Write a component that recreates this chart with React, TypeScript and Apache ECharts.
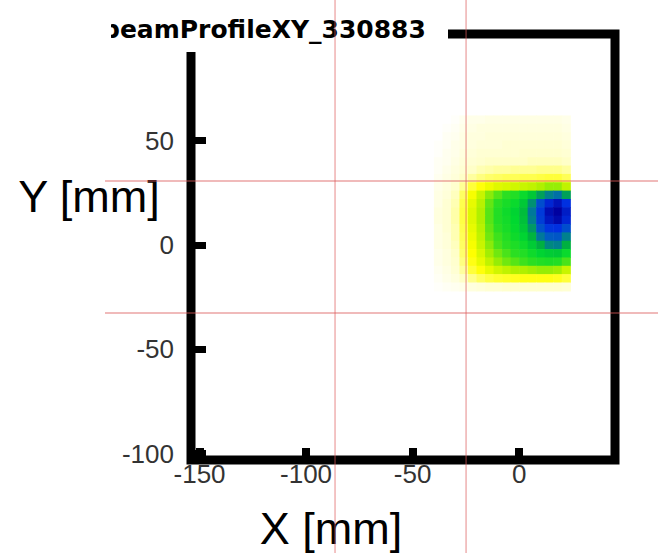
import React, { useEffect, useRef } from 'react';
import * as echarts from 'echarts';

const TITLE = 'beamProfileXY_330883';
const X_TITLE = 'X [mm]';
const Y_TITLE = 'Y [mm]';
const X_TICKS = [-150, -100, -50, 0];
const Y_TICKS = [-100, -50, 0, 50];
const X_MIN = -154;
const X_MAX = 45;
const Y_MIN = -103;
const Y_MAX = 101;
const BIN = 4;
const X_BINS = [-38, -34, -30, -26, -22, -18, -14, -10, -6, -2, 2, 6, 10, 14, 18, 22];
const Y_BINS = [60, 56, 52, 48, 44, 40, 36, 32, 28, 24, 20, 16, 12, 8, 4, 0, -4, -8, -12, -16, -20];
const COUNTS = [
  [0, 0, 1, 3, 4, 4, 5, 5, 5, 5, 5, 5, 5, 5, 5, 4],
  [0, 1, 2, 4, 5, 6, 6, 6, 6, 6, 6, 6, 6, 6, 6, 5],
  [0, 2, 3, 5, 6, 6, 7, 7, 7, 7, 7, 7, 7, 7, 7, 6],
  [1, 2, 4, 5, 6, 7, 7, 7, 8, 8, 8, 8, 8, 8, 8, 7],
  [1, 3, 4, 6, 7, 8, 8, 8, 8, 8, 9, 9, 9, 9, 9, 8],
  [2, 3, 5, 7, 8, 9, 10, 10, 10, 10, 10, 11, 11, 11, 11, 10],
  [2, 4, 6, 8, 10, 12, 13, 14, 14, 15, 15, 15, 16, 16, 16, 14],
  [3, 5, 7, 10, 14, 17, 19, 20, 21, 21, 22, 22, 23, 24, 24, 21],
  [4, 6, 9, 15, 24, 29, 32, 34, 35, 36, 37, 38, 40, 42, 42, 38],
  [5, 7, 11, 20, 31, 37, 43, 47, 51, 53, 58, 64, 72, 76, 78, 72],
  [5, 8, 12, 22, 33, 39, 46, 51, 55, 58, 64, 74, 84, 92, 96, 90],
  [6, 8, 13, 23, 34, 40, 47, 53, 57, 61, 67, 77, 88, 97, 100, 94],
  [6, 8, 13, 23, 34, 40, 47, 53, 56, 60, 66, 76, 87, 95, 98, 92],
  [5, 8, 12, 22, 33, 39, 46, 51, 55, 59, 64, 73, 83, 89, 90, 84],
  [5, 7, 12, 21, 32, 38, 45, 49, 53, 57, 61, 69, 77, 81, 82, 76],
  [5, 7, 11, 20, 31, 37, 43, 48, 51, 54, 57, 63, 70, 75, 76, 70],
  [4, 6, 10, 19, 30, 35, 41, 45, 48, 51, 53, 57, 61, 63, 64, 58],
  [4, 6, 9, 17, 28, 33, 38, 42, 45, 47, 49, 51, 53, 54, 53, 48],
  [3, 5, 8, 14, 24, 29, 33, 36, 38, 40, 40, 41, 42, 42, 41, 37],
  [2, 4, 6, 10, 16, 20, 23, 25, 26, 27, 28, 28, 28, 28, 27, 24],
  [1, 2, 3, 4, 6, 7, 8, 8, 9, 9, 9, 9, 9, 9, 9, 8],
];
const CROSS_X = [-86.4, -24.9];
const CROSS_Y = [30.6, -32.6];

const W = 658;
const H = 553;

export default function App() {
  const ref = useRef<HTMLDivElement>(null);
  useEffect(() => {
    if (!ref.current) return;
    const chart = echarts.init(ref.current, undefined, { renderer: 'svg' });
    const data: number[][] = [];
    COUNTS.forEach((row, r) => {
      row.forEach((v, c) => {
        if (v > 0) data.push([X_BINS[c], Y_BINS[r], v]);
      });
    });
    const labelStyle = {
      fontSize: 26,
      fontFamily: '"Liberation Sans", Arial, sans-serif',
      color: '#333',
    };
    chart.setOption({
      animation: false,
      backgroundColor: '#fff',
      grid: {
        left: 191,
        top: 34,
        width: 424,
        height: 426,
        show: true,
        borderColor: '#000',
        borderWidth: 9,
        backgroundColor: 'transparent',
      },
      xAxis: {
        type: 'value',
        min: X_MIN,
        max: X_MAX,
        axisLine: { show: false, onZero: false },
        splitLine: { show: false },
        axisTick: {
          show: true,
          inside: true,
          length: 12,
          lineStyle: { color: '#000', width: 8 },
          customValues: X_TICKS,
        },
        axisLabel: { ...labelStyle, margin: 1, customValues: X_TICKS },
      },
      yAxis: {
        type: 'value',
        min: Y_MIN,
        max: Y_MAX,
        axisLine: { show: false, onZero: false },
        splitLine: { show: false },
        axisTick: {
          show: true,
          inside: true,
          length: 15,
          lineStyle: { color: '#000', width: 7 },
          customValues: Y_TICKS,
        },
        axisLabel: { ...labelStyle, margin: 17, customValues: Y_TICKS },
      },
      visualMap: {
        type: 'continuous',
        show: false,
        min: 0,
        max: 100,
        dimension: 2,
        seriesIndex: 0,
        inRange: {
          color: [
            '#ffffff', '#ffffc8', '#ffff60', '#ffff00', '#b0f000', '#30e020',
            '#00d830', '#00b040', '#0060c0', '#0030e0', '#0000a0',
          ],
        },
      },
      series: [
        {
          type: 'custom',
          coordinateSystem: 'cartesian2d',
          encode: { x: 0, y: 1 },
          data,
          z: 2,
          renderItem: (params: any, api: any) => {
            const x = api.value(0);
            const y = api.value(1);
            const p1 = api.coord([x - BIN / 2, y + BIN / 2]);
            const p2 = api.coord([x + BIN / 2, y - BIN / 2]);
            return {
              type: 'rect',
              shape: {
                x: p1[0],
                y: p1[1],
                width: p2[0] - p1[0] + 0.6,
                height: p2[1] - p1[1] + 0.6,
              },
              style: { fill: api.visual('color'), stroke: null },
            };
          },
        },
      ],
    });

    const lines: any[] = [];
    CROSS_X.forEach((cx) => {
      const px = chart.convertToPixel({ gridIndex: 0 }, [cx, 0])[0];
      lines.push({
        type: 'line',
        z: 110,
        shape: { x1: px, y1: 0, x2: px, y2: H },
        style: { stroke: 'rgba(220,90,90,0.55)', lineWidth: 1.3 },
      });
    });
    CROSS_Y.forEach((cy) => {
      const py = chart.convertToPixel({ gridIndex: 0 }, [0, cy])[1];
      lines.push({
        type: 'line',
        z: 110,
        shape: { x1: 105, y1: py, x2: W, y2: py },
        style: { stroke: 'rgba(220,90,90,0.55)', lineWidth: 1.3 },
      });
    });

    chart.setOption({
      graphic: [
        {
          type: 'rect',
          z: 100,
          shape: { x: 100, y: 0, width: 348, height: 52 },
          style: { fill: '#fff' },
        },
        {
          type: 'text',
          z: 101,
          x: 102,
          y: 29,
          style: {
            text: TITLE,
            fontSize: 25,
            fontWeight: 'bold',
            fontFamily: '"DejaVu Sans", sans-serif',
            fill: '#000',
            align: 'left',
            verticalAlign: 'middle',
          },
        },
        {
          type: 'rect',
          z: 105,
          shape: { x: 0, y: 0, width: 111, height: 50 },
          style: { fill: '#ffffff' },
        },
        {
          type: 'text',
          z: 101,
          x: 89,
          y: 196,
          style: {
            text: Y_TITLE,
            fontSize: 45,
            fontFamily: '"Liberation Sans", Arial, sans-serif',
            fill: '#000',
            align: 'center',
            verticalAlign: 'middle',
          },
        },
        {
          type: 'text',
          z: 101,
          x: 331,
          y: 528,
          style: {
            text: X_TITLE,
            fontSize: 45,
            fontFamily: '"Liberation Sans", Arial, sans-serif',
            fill: '#000',
            align: 'center',
            verticalAlign: 'middle',
          },
        },
        ...lines,
      ],
    });

    return () => chart.dispose();
  }, []);
  return (
    <div
      ref={ref}
      style={{ position: 'fixed', left: 0, top: 0, width: W, height: H }}
    />
  );
}
